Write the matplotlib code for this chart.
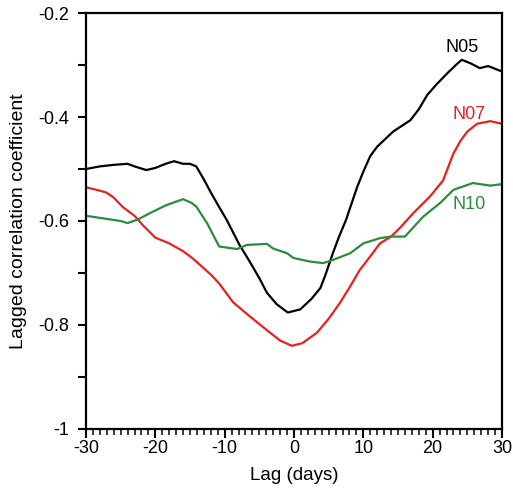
import matplotlib.pyplot as plt
from matplotlib.ticker import MultipleLocator, FuncFormatter

plt.rcParams['font.family'] = ['Liberation Sans', 'DejaVu Sans']
plt.rcParams['axes.unicode_minus'] = False

# lag (days) and lagged correlation
lag_n05 = [-30, -28, -26, -24, -23, -21.3, -20, -18.5, -17.3, -16, -15, -14.1, -13, -12, -10.8, -9.7, -7.9, -6.3, -5, -3.9, -2.5, -0.9,
           0.9, 2.5, 3.8, 4.5, 5.6, 6.5, 7.5, 9.1, 10, 11, 12, 14.3, 16.8, 18, 19.2, 20.5, 22.1, 23.5, 24.2, 25.5, 26.8, 28, 29.7, 30]
n05 = [-0.50, -0.495, -0.492, -0.49, -0.495, -0.502, -0.498, -0.49, -0.485, -0.49, -0.49, -0.495, -0.52, -0.545, -0.573, -0.598, -0.645, -0.68, -0.71, -0.738, -0.76, -0.776,
       -0.77, -0.75, -0.729, -0.705, -0.662, -0.63, -0.598, -0.535, -0.505, -0.475, -0.457, -0.428, -0.406, -0.385, -0.358, -0.338, -0.316, -0.298, -0.29, -0.297, -0.306, -0.302, -0.311, -0.312]

lag_n07 = [-30, -28.5, -27.1, -26, -24.7, -23, -21.8, -20, -18, -16, -14.6, -13.5, -12, -10.8, -8.8, -6.5, -3.9, -2, -0.3,
           1.2, 3.3, 5, 6.6, 8, 9.5, 11, 12.4, 14, 15.3, 17.2, 19.6, 21.5, 23, 24, 25, 26.4, 28.3, 30]
n07 = [-0.535, -0.54, -0.545, -0.555, -0.573, -0.59, -0.608, -0.632, -0.643, -0.658, -0.672, -0.685, -0.703, -0.72, -0.756, -0.782, -0.81, -0.83, -0.84,
       -0.835, -0.815, -0.788, -0.758, -0.728, -0.694, -0.668, -0.643, -0.63, -0.613, -0.585, -0.553, -0.522, -0.47, -0.446, -0.428, -0.413, -0.408, -0.413]

lag_n10 = [-30, -27.5, -25, -24, -22.5, -20.8, -18.5, -16, -14.8, -14.1, -12.5, -10.8, -8.2, -6.8, -3.9, -3, -1, -0.1,
           2.3, 4.2, 5.6, 8.1, 10, 12.4, 13.9, 16, 18.6, 21.1, 23, 25.8, 28.3, 30]
n10 = [-0.59, -0.595, -0.6, -0.604, -0.597, -0.585, -0.57, -0.558, -0.565, -0.572, -0.605, -0.649, -0.654, -0.646, -0.644, -0.653, -0.662, -0.671,
       -0.678, -0.681, -0.675, -0.662, -0.643, -0.633, -0.63, -0.63, -0.592, -0.565, -0.54, -0.527, -0.532, -0.529]

series = [
    ('N05', lag_n05, n05, '#000000', (24.3, -0.267)),
    ('N07', lag_n07, n07, '#e5221f', (25.3, -0.396)),
    ('N10', lag_n10, n10, '#2b8c3c', (25.3, -0.569)),
]

fig = plt.figure(figsize=(5.13, 4.91), dpi=100)
ax = fig.add_axes([0.1676, 0.1263, 0.811, 0.8472])

for name, x, y, c, (tx, ty) in series:
    ax.plot(x, y, color=c, lw=1.6)
    ax.text(tx, ty, name, color=c, fontsize=13, ha='center', va='center')

ax.set_xlim(-30, 30)
ax.set_ylim(-1, -0.2)
ax.xaxis.set_major_locator(MultipleLocator(10))
ax.xaxis.set_minor_locator(MultipleLocator(1))
ax.yaxis.set_major_locator(MultipleLocator(0.2))
ax.yaxis.set_minor_locator(MultipleLocator(0.1))
ax.yaxis.set_major_formatter(FuncFormatter(lambda v, p: f'{v:g}'))

ax.tick_params(axis='x', which='major', direction='out', length=6.5, width=1.5, labelsize=13, pad=1.5)
ax.tick_params(axis='x', which='minor', direction='out', length=4.3, width=1.1)
ax.tick_params(axis='y', which='both', direction='out', length=5.8, width=1.5, labelsize=13, pad=6)

for s in ax.spines.values():
    s.set_linewidth(1.6)

ax.set_xlabel('Lag (days)', fontsize=13.5, labelpad=7)
ax.set_ylabel('Lagged correlation coefficient', fontsize=14, labelpad=8)

fig.savefig('out.png', dpi=100)
